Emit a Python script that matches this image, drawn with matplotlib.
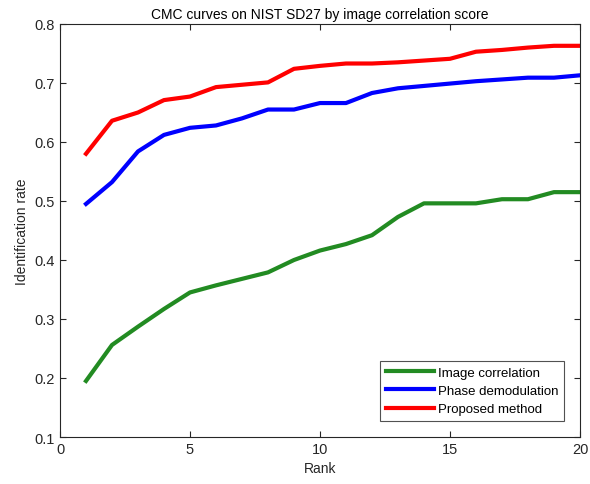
import matplotlib
matplotlib.use("Agg")
import matplotlib.pyplot as plt

rank = list(range(1, 21))
image_corr = [0.195, 0.256, 0.287, 0.317, 0.345, 0.357, 0.368, 0.379, 0.400, 0.416,
              0.427, 0.442, 0.473, 0.496, 0.496, 0.496, 0.503, 0.503, 0.515, 0.515]
phase_demod = [0.495, 0.532, 0.584, 0.612, 0.624, 0.628, 0.640, 0.655, 0.655, 0.666,
               0.666, 0.683, 0.691, 0.695, 0.699, 0.703, 0.706, 0.709, 0.709, 0.713]
proposed = [0.580, 0.636, 0.650, 0.671, 0.677, 0.693, 0.697, 0.701, 0.724, 0.729,
            0.733, 0.733, 0.735, 0.738, 0.741, 0.753, 0.756, 0.760, 0.763, 0.763]
labels = ["Image correlation", "Phase demodulation", "Proposed method"]

plt.rcParams['font.family'] = ['Liberation Sans', 'DejaVu Sans']
fig = plt.figure(figsize=(5.9, 4.85), dpi=100)
ax = fig.add_axes([0.1017, 0.0969, 0.8813, 0.8516])

ax.plot(rank, image_corr, color='#228B22', lw=3.0, label=labels[0])
ax.plot(rank, phase_demod, color='#0000FF', lw=3.0, label=labels[1])
ax.plot(rank, proposed, color='#FF0000', lw=3.0, label=labels[2])

ax.set_xlim(0, 20)
ax.set_ylim(0.1, 0.8)
ax.set_xticks([0, 5, 10, 15, 20])
ax.set_yticks([0.1, 0.2, 0.3, 0.4, 0.5, 0.6, 0.7, 0.8])
ax.tick_params(direction='in', length=4, colors='#262626', labelsize=10.5,
               top=True, right=True, labeltop=False, labelright=False)
for sp in ax.spines.values():
    sp.set_color('#262626')
    sp.set_linewidth(0.8)
ax.set_title("CMC curves on NIST SD27 by image correlation score", fontsize=10, color='#000000', pad=4)
ax.set_xlabel("Rank", fontsize=10, color='#262626')
ax.set_ylabel("Identification rate", fontsize=10, color='#262626')

leg = ax.legend(loc='lower right', fontsize=9.5, frameon=True, fancybox=False,
                edgecolor='#262626', handlelength=3.6, borderaxespad=1.2,
                borderpad=0.45, labelspacing=0.45, handletextpad=0.3)
leg.get_frame().set_linewidth(0.8)

fig.savefig("out.png", dpi=100)
